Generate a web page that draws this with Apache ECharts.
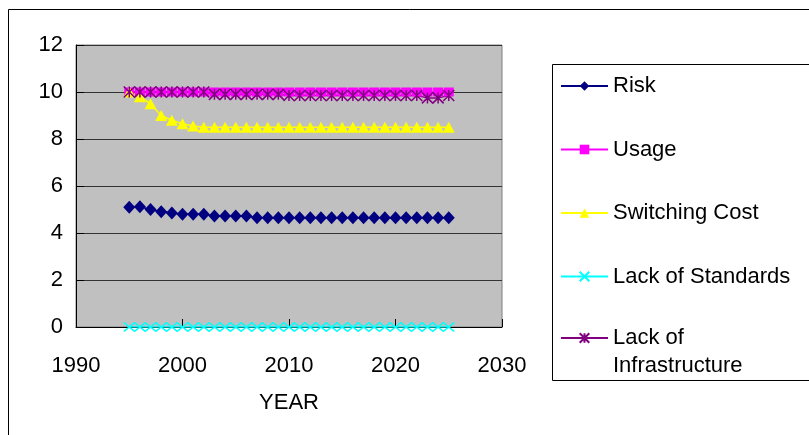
<!DOCTYPE html>
<html>
<head>
<meta charset="utf-8">
<script src="https://cdn.jsdelivr.net/npm/echarts@6/dist/echarts.min.js"></script>
<style>
html,body{margin:0;padding:0;background:#fff;}
#chart{width:809px;height:435px;}
</style>
</head>
<body>
<div id="chart"></div>
<script>
var years = [1995,1996,1997,1998,1999,2000,2001,2002,2003,2004,2005,2006,2007,2008,2009,2010,2011,2012,2013,2014,2015,2016,2017,2018,2019,2020,2021,2022,2023,2024,2025];
var risk = [5.1,5.12,5.0,4.9,4.85,4.8,4.8,4.8,4.72,4.72,4.72,4.72,4.65,4.65,4.65,4.65,4.65,4.65,4.65,4.65,4.65,4.65,4.65,4.65,4.65,4.65,4.65,4.65,4.65,4.65,4.65];
var usage = [10,10,10,10,10,10,10,10,10,10,10,10,10,10,10,10,10,10,10,10,10,10,10,10,10,10,10,10,10,10,10];
var switchingCost = [10,9.8,9.5,9.0,8.8,8.65,8.55,8.5,8.5,8.5,8.5,8.5,8.5,8.5,8.5,8.5,8.5,8.5,8.5,8.5,8.5,8.5,8.5,8.5,8.5,8.5,8.5,8.5,8.5,8.5,8.5];
var lackOfStandards = [0,0,0,0,0,0,0,0,0,0,0,0,0,0,0,0,0,0,0,0,0,0,0,0,0,0,0,0,0,0,0];
var lackOfInfrastructure = [10,10,10,10,10,10,10,10,9.9,9.9,9.9,9.9,9.9,9.9,9.9,9.85,9.85,9.85,9.85,9.85,9.85,9.85,9.85,9.85,9.85,9.85,9.85,9.85,9.75,9.75,9.85];
var seriesNames = ['Risk','Usage','Switching Cost','Lack of Standards','Lack of\nInfrastructure'];
var xTicks = {min:1990, max:2030, interval:10};
var yTicks = {min:0, max:12, interval:2};

function pairs(vals){ return years.map(function(y,i){ return [y, vals[i]]; }); }

var FONT = 'Liberation Sans, Arial, sans-serif';
var xPath = 'path://M0,0L10,10M10,0L0,10';
var starPath = 'path://M0,0L10,10M10,0L0,10M5,0L5,10';

var legendText = {color:'#000', fontSize:22, fontFamily:FONT, lineHeight:28};

var chart = echarts.init(document.getElementById('chart'));
chart.setOption({
  animation:false,
  backgroundColor:'#fff',
  textStyle:{fontFamily:FONT},
  graphic:[
    {type:'rect', z:-10, shape:{x:8.5,y:9.5,width:1000,height:1000}, style:{fill:'none',stroke:'#000',lineWidth:1}},
    {type:'rect', z:-10, shape:{x:552.5,y:64.5,width:400,height:316}, style:{fill:'none',stroke:'#000',lineWidth:1}}
  ],
  grid:{left:76, top:45, width:426, height:282, show:true, backgroundColor:'#C0C0C0', borderColor:'#808080', borderWidth:1},
  xAxis:{
    type:'value', min:xTicks.min, max:xTicks.max, interval:xTicks.interval,
    name:'YEAR', nameLocation:'middle', nameGap:65,
    nameTextStyle:{color:'#000', fontSize:22, fontFamily:FONT},
    axisLine:{lineStyle:{color:'#000', width:1}},
    axisTick:{inside:true, length:8, lineStyle:{color:'#000'}},
    axisLabel:{color:'#000', fontSize:22, fontFamily:FONT, margin:28, formatter:function(v){return String(v);}},
    splitLine:{show:false}
  },
  yAxis:{
    type:'value', min:yTicks.min, max:yTicks.max, interval:yTicks.interval,
    axisLine:{show:true, lineStyle:{color:'#000', width:1}},
    axisTick:{show:true, inside:true, length:8, lineStyle:{color:'#000'}},
    axisLabel:{color:'#000', fontSize:22, fontFamily:FONT, margin:13},
    splitLine:{show:true, lineStyle:{color:'#333333', width:1}}
  },
  legend:[
    {
      orient:'vertical', left:560, top:72, padding:0,
      itemWidth:47, itemHeight:12, itemGap:35.5,
      textStyle:legendText,
      data:[{name:seriesNames[0]},{name:seriesNames[1]},{name:seriesNames[2]},{name:seriesNames[3]}]
    },
    {
      orient:'vertical', left:560, top:296, padding:0,
      itemWidth:47, itemHeight:12,
      textStyle:legendText,
      formatter:function(name){ return ' \n' + name; },
      data:[{name:seriesNames[4]}]
    }
  ],
  series:[
    {name:seriesNames[0], type:'line', data:pairs(risk), symbol:'diamond', symbolSize:[12,13],
      lineStyle:{color:'#000080', width:1.5}, itemStyle:{color:'#000080'}},
    {name:seriesNames[1], type:'line', data:pairs(usage), symbol:'rect', symbolSize:[10,9],
      lineStyle:{color:'#FF00FF', width:1.5}, itemStyle:{color:'#FF00FF'}},
    {name:seriesNames[2], type:'line', data:pairs(switchingCost), symbol:'triangle', symbolSize:[12,11],
      lineStyle:{color:'#FFFF00', width:1.5}, itemStyle:{color:'#FFFF00'}},
    {name:seriesNames[3], type:'line', data:pairs(lackOfStandards), symbol:xPath, symbolSize:[11,9],
      lineStyle:{color:'#00FFFF', width:1.5}, itemStyle:{color:'#00FFFF', borderColor:'#00FFFF', borderWidth:1.5}},
    {name:seriesNames[4], type:'line', data:pairs(lackOfInfrastructure), symbol:starPath, symbolSize:[11,11],
      lineStyle:{color:'#800080', width:1.5}, itemStyle:{color:'#800080', borderColor:'#800080', borderWidth:1.5}}
  ]
});
</script>
</body>
</html>
